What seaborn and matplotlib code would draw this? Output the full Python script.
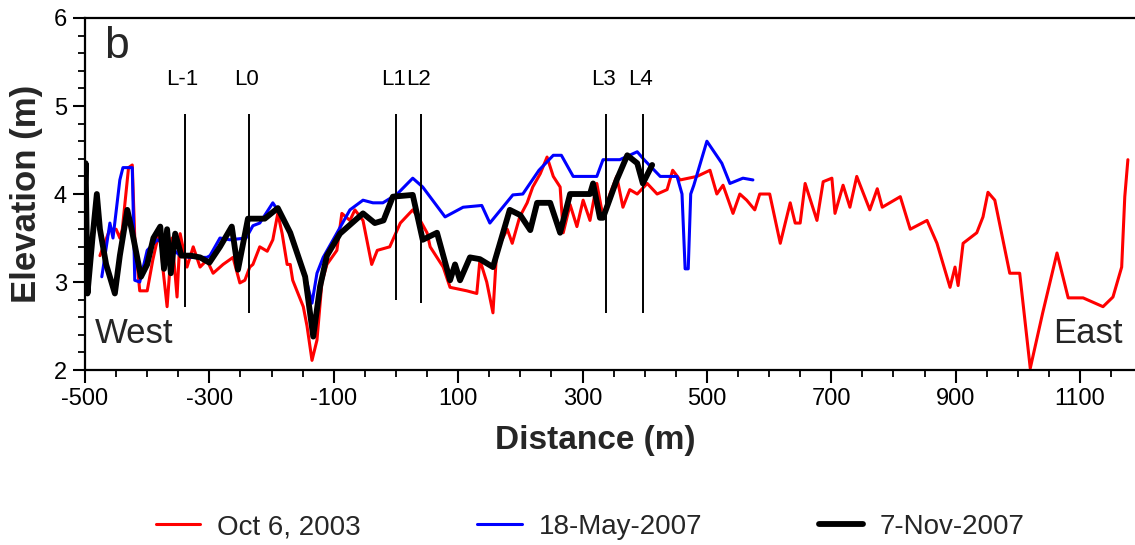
import matplotlib
matplotlib.use("Agg")
import matplotlib.pyplot as plt
from matplotlib import font_manager
from matplotlib.ticker import MultipleLocator
from matplotlib.lines import Line2D
import numpy as np
import pandas as pd
import seaborn as sns

# Beach profile surveys: distance along shore (m) vs elevation (m)
oct2003_x = [-476, -460, -450, -444, -440, -430, -424, -420, -412, -400, -391, -379, -375, -368,
             -363, -360, -352, -347, -336, -326, -315, -304, -294, -278, -262, -251, -243, -235,
             -230, -219, -207, -198, -190, -183, -175, -170, -166, -149, -143, -135, -127, -119,
             -111, -95, -87, -74, -66, -53, -39, -30, -10, 7, 27, 39, 50, 55, 76, 87, 114, 130,
             135, 146, 156, 162, 179, 187, 199, 211, 220, 232, 243, 253, 264, 269, 280, 291, 301,
             312, 323, 333, 344, 355, 365, 376, 388, 404, 420, 436, 445, 457, 484, 505, 516, 526,
             542, 553, 564, 577, 585, 601, 618, 634, 642, 650, 658, 677, 687, 701, 706, 719, 730,
             741, 762, 774, 782, 811, 827, 854, 870, 891, 899, 904, 912, 934, 944, 952, 963, 987,
             1003, 1020, 1040, 1063, 1081, 1105, 1137, 1153, 1167, 1172, 1177]
oct2003_y = [3.30, 3.60, 3.60, 3.50, 3.60, 4.30, 4.33, 3.50, 2.90, 2.90, 3.25, 3.63, 3.17, 2.72,
             3.20, 3.50, 2.83, 3.55, 3.17, 3.40, 3.17, 3.25, 3.10, 3.20, 3.28, 2.99, 3.02, 3.17,
             3.20, 3.40, 3.35, 3.48, 3.78, 3.55, 3.20, 3.20, 3.02, 2.72, 2.50, 2.11, 2.34, 3.00,
             3.20, 3.36, 3.78, 3.70, 3.82, 3.70, 3.20, 3.36, 3.40, 3.67, 3.82, 3.70, 3.56, 3.40,
             3.17, 2.94, 2.90, 2.87, 3.25, 3.00, 2.65, 3.36, 3.60, 3.44, 3.74, 3.90, 4.08, 4.23,
             4.42, 4.20, 4.08, 3.56, 3.88, 3.63, 3.93, 3.70, 4.12, 3.74, 4.00, 4.20, 3.85, 4.05,
             4.00, 4.12, 4.00, 4.05, 4.27, 4.16, 4.20, 4.27, 4.00, 4.10, 3.78, 4.00, 3.93, 3.82,
             4.00, 4.00, 3.44, 3.90, 3.67, 3.67, 4.12, 3.70, 4.14, 4.18, 3.78, 4.10, 3.85, 4.20,
             3.82, 4.06, 3.85, 3.97, 3.60, 3.70, 3.44, 2.94, 3.17, 2.96, 3.44, 3.56, 3.74, 4.02,
             3.93, 3.10, 3.10, 2.02, 2.65, 3.33, 2.82, 2.82, 2.72, 2.83, 3.17, 3.97, 4.39]

may2007_x = [-473, -460, -455, -444, -439, -424, -420, -412, -400, -384, -363, -347, -331, -304,
             -299, -283, -267, -241, -230, -219, -198, -183, -166, -143, -135, -127, -117, -101,
             -74, -53, -37, -21, 2, 27, 43, 79, 108, 138, 151, 188, 204, 230, 253, 266, 285, 323,
             333, 360, 388, 399, 425, 452, 460, 465, 470, 474, 479, 500, 524, 537, 558, 574]
may2007_y = [3.06, 3.67, 3.50, 4.16, 4.30, 4.30, 3.02, 3.00, 3.36, 3.48, 3.40, 3.30, 3.28, 3.28,
             3.30, 3.50, 3.48, 3.50, 3.64, 3.67, 3.90, 3.74, 3.50, 2.99, 2.76, 3.10, 3.28, 3.48,
             3.82, 3.93, 3.90, 3.90, 4.00, 4.18, 4.08, 3.74, 3.85, 3.87, 3.67, 3.99, 4.00, 4.27,
             4.44, 4.44, 4.20, 4.20, 4.39, 4.39, 4.48, 4.39, 4.20, 4.20, 4.00, 3.15, 3.15, 4.00,
             4.10, 4.60, 4.35, 4.12, 4.18, 4.16]

nov2007_x = [-500, -499, -496, -488, -481, -476, -466, -452, -444, -432, -425, -410, -400, -390,
             -379, -373, -368, -362, -355, -345, -330, -315, -300, -283, -264, -254, -238, -211,
             -190, -170, -146, -133, -122, -111, -90, -53, -34, -20, -5, 27, 43, 66, 87, 95, 103,
             119, 135, 156, 183, 200, 216, 227, 248, 264, 280, 312, 317, 328, 333, 355, 372, 388,
             397, 412]
nov2007_y = [4.10, 4.35, 2.87, 3.50, 4.00, 3.60, 3.20, 2.87, 3.30, 3.82, 3.60, 3.06, 3.20, 3.50,
             3.63, 3.15, 3.60, 3.10, 3.55, 3.30, 3.30, 3.28, 3.22, 3.40, 3.63, 3.14, 3.72, 3.72,
             3.84, 3.56, 3.06, 2.38, 2.95, 3.30, 3.55, 3.78, 3.67, 3.70, 3.97, 3.99, 3.48, 3.56,
             3.02, 3.20, 3.02, 3.28, 3.26, 3.17, 3.82, 3.76, 3.59, 3.90, 3.90, 3.56, 4.00, 4.00,
             4.12, 3.73, 3.73, 4.16, 4.44, 4.35, 4.12, 4.33]

# Survey line positions along the profile
line_names = ["L-1", "L0", "L1", "L2", "L3", "L4"]
line_pos = [-340, -237, 0, 40, 337, 397]
line_bottom = [2.72, 2.65, 2.80, 2.76, 2.65, 2.65]
line_top = 4.91

series_names = ["Oct 6, 2003", "18-May-2007", "7-Nov-2007"]
series_colors = ["#ff0000", "#0000ff", "#000000"]
series_widths = [2.2, 2.2, 4.2]

sns.set_theme(style="ticks")
available = {f.name for f in font_manager.fontManager.ttflist}
base_font = "Liberation Sans Narrow" if "Liberation Sans Narrow" in available else "Liberation Sans"
plt.rcParams["font.family"] = [base_font, "DejaVu Sans"]
plt.rcParams["axes.unicode_minus"] = False

fig = plt.figure(figsize=(11.35, 5.45), dpi=100)
ax = fig.add_axes([0.0749, 0.321, 0.9287, 0.646])

frames = [
    pd.DataFrame({"Distance": oct2003_x, "Elevation": oct2003_y}),
    pd.DataFrame({"Distance": may2007_x, "Elevation": may2007_y}),
    pd.DataFrame({"Distance": nov2007_x, "Elevation": nov2007_y}),
]
for df, name, col, lw in zip(frames, series_names, series_colors, series_widths):
    sns.lineplot(data=df, x="Distance", y="Elevation", ax=ax, color=col, linewidth=lw,
                 estimator=None, sort=False, legend=False)

ax.vlines(line_pos, line_bottom, line_top, colors="black", linewidth=1.4)
for name, pos in zip(line_names, line_pos):
    ax.text(pos - 4, 5.3, name, ha="center", va="center", fontsize=16, color="black")

ax.set_xlim(-500, 1195)
ax.set_ylim(2, 6)
ax.xaxis.set_major_locator(MultipleLocator(200))
ax.xaxis.set_minor_locator(MultipleLocator(50))
ax.yaxis.set_major_locator(MultipleLocator(1))
ax.yaxis.set_minor_locator(MultipleLocator(0.2))
ax.set_xticks(np.arange(-500, 1101, 200))

ax.tick_params(axis="both", which="major", direction="out", length=9, width=1.5,
               labelsize=17, colors="black", pad=4)
ax.tick_params(axis="both", which="minor", direction="out", length=5, width=1.3, colors="black")
for side in ["left", "bottom", "top", "right"]:
    ax.spines[side].set_linewidth(1.6)
    ax.spines[side].set_color("black")

ax.set_xlabel("Distance (m)", fontsize=24, fontweight="bold")
ax.xaxis.set_label_coords(0.484, -0.155)
ax.set_ylabel("Elevation (m)", fontsize=25, fontweight="bold", labelpad=8)

ax.text(0.018, 0.92, "b", transform=ax.transAxes, fontsize=32, ha="left", va="center")
ax.text(0.009, 0.105, "West", transform=ax.transAxes, fontsize=25, ha="left", va="center")
ax.text(0.918, 0.105, "East", transform=ax.transAxes, fontsize=25, ha="left", va="center")

handles = [Line2D([0], [0], color=c, linewidth=w) for c, w in zip(series_colors, series_widths)]
fig.legend(handles, series_names, loc="center", bbox_to_anchor=(0.52, 0.033), ncol=3,
           frameon=False, fontsize=20, handlelength=1.6, columnspacing=4.2, handletextpad=0.6)

fig.savefig("out.png", dpi=100)
